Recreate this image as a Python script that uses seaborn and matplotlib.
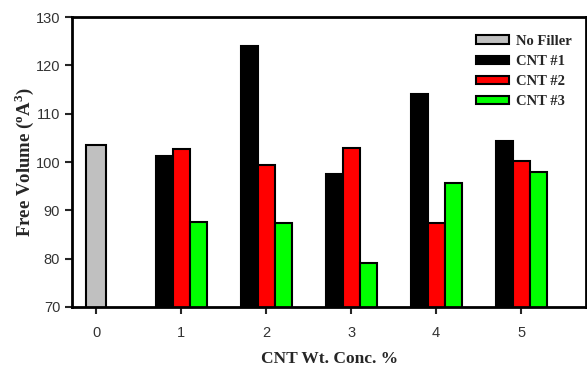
import pandas as pd
import numpy as np
import matplotlib.pyplot as plt
import seaborn as sns
from matplotlib.patches import Patch

# values
conc = ['0', '1', '2', '3', '4', '5']
no_filler = [103.6]
cnt1 = [101.3, 124.0, 97.6, 114.0, 104.3]
cnt2 = [102.6, 99.4, 102.8, 87.3, 100.2]
cnt3 = [87.6, 87.3, 79.0, 95.6, 97.9]
series = ['CNT #1', 'CNT #2', 'CNT #3']
colors = {'No Filler': '#c0c0c0', 'CNT #1': '#000000', 'CNT #2': '#ff0000', 'CNT #3': '#00ff00'}

df = pd.DataFrame({
    'conc': conc[1:] * 3,
    'series': np.repeat(series, 5),
    'volume': cnt1 + cnt2 + cnt3,
})
df0 = pd.DataFrame({'conc': conc[:1], 'volume': no_filler})

sns.set_style('ticks')
plt.rcParams['font.family'] = ['Liberation Sans', 'DejaVu Sans']

fig = plt.figure(figsize=(5.87, 3.72), dpi=100)
ax = fig.add_axes([0.1227, 0.175, 0.876, 0.779])

sns.barplot(data=df0, x='conc', y='volume', order=conc, color=colors['No Filler'],
            width=0.235, edgecolor='black', linewidth=1.5, saturation=1, ax=ax)
sns.barplot(data=df, x='conc', y='volume', hue='series', order=conc, hue_order=series,
            palette=colors, width=0.6, edgecolor='black', linewidth=1.5, saturation=1,
            legend=False, ax=ax)

ax.set_ylim(70, 130)
ax.set_yticks(range(70, 131, 10))
ax.set_xlim(-0.282, 5.765)

for s in ax.spines.values():
    s.set_linewidth(2)
    s.set_color('black')
ax.tick_params(axis='both', direction='out', length=5, width=1.5,
               labelsize=10.5, labelcolor='#333333')
ax.tick_params(axis='x', pad=9)

ax.set_xlabel('CNT Wt. Conc. %', family='Liberation Serif', fontweight='bold',
              fontsize=12.5, labelpad=8)
ax.set_ylabel('Free Volume ($^{\\mathregular{o}}$A$^{\\mathregular{3}}$)', family='Liberation Serif',
              fontweight='bold', fontsize=13.5, labelpad=0)

handles = [Patch(facecolor=colors[k], edgecolor='black', linewidth=1.5)
           for k in ['No Filler'] + series]
ax.legend(handles, ['No Filler'] + series, loc='upper right', frameon=False,
          prop={'family': 'Liberation Serif', 'size': 10.5, 'weight': 'bold'},
          handlelength=2.3, handleheight=0.5, handletextpad=0.45,
          labelspacing=0.5, bbox_to_anchor=(0.997, 0.985))

fig.savefig('out.png', dpi=100)
